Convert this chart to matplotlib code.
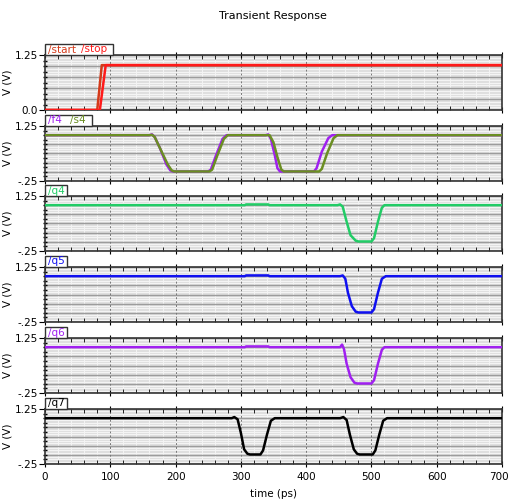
import matplotlib
matplotlib.use("Agg")
import matplotlib.pyplot as plt
from matplotlib.patches import Rectangle
from matplotlib.transforms import ScaledTranslation
import numpy as np

plt.rcParams['font.family'] = ['Liberation Sans Narrow', 'DejaVu Sans']

# ---- data ----
t_start = [0, 80, 87, 700]
v_start = [0.0, 0.0, 1.02, 1.02]
t_stop = [0, 84, 93, 700]
v_stop = [0.0, 0.0, 1.02, 1.02]

t_f4 = [0, 160, 164, 168, 176, 186, 192, 196, 250, 254, 262, 272, 278, 338, 342, 346, 352, 356, 360, 412, 416, 424, 434, 440, 700]
v_f4 = [1.0, 1.0, 1.02, 0.95, 0.65, 0.2, 0.04, 0.01, 0.01, 0.06, 0.45, 0.9, 1.0, 1.0, 1.02, 0.9, 0.45, 0.1, 0.01, 0.01, 0.1, 0.55, 0.92, 1.0, 1.0]
t_s4 = [0, 160, 164, 168, 176, 188, 194, 198, 252, 256, 264, 274, 280, 340, 344, 350, 356, 362, 366, 420, 424, 432, 442, 448, 700]
v_s4 = [1.0, 1.0, 1.01, 0.95, 0.65, 0.2, 0.04, 0.01, 0.01, 0.06, 0.45, 0.9, 1.0, 1.0, 1.0, 0.8, 0.4, 0.06, 0.01, 0.01, 0.08, 0.5, 0.92, 1.0, 1.0]

t_q4 = [0, 306, 308, 342, 344, 448, 452, 456, 462, 468, 476, 480, 500, 504, 510, 516, 520, 700]
v_q4 = [1.0, 1.0, 1.02, 1.02, 1.0, 1.0, 1.02, 0.96, 0.55, 0.18, 0.03, 0.01, 0.01, 0.1, 0.55, 0.93, 1.0, 1.0]
t_q5 = [0, 306, 308, 342, 344, 452, 456, 460, 464, 470, 476, 480, 500, 504, 510, 516, 522, 700]
v_q5 = [1.0, 1.0, 1.02, 1.02, 1.0, 1.0, 1.02, 0.93, 0.55, 0.18, 0.03, 0.01, 0.01, 0.1, 0.55, 0.93, 1.0, 1.0]
t_q6 = [0, 306, 308, 342, 344, 452, 455, 458, 462, 468, 474, 478, 500, 504, 510, 516, 520, 700]
v_q6 = [1.0, 1.0, 1.02, 1.02, 1.0, 1.0, 1.07, 0.95, 0.55, 0.18, 0.03, 0.01, 0.01, 0.1, 0.55, 0.93, 1.0, 1.0]
t_q7 = [0, 286, 290, 295, 300, 305, 310, 314, 330, 334, 340, 346, 352, 452, 457, 462, 467, 473, 478, 482, 502, 506, 512, 518, 524, 700]
v_q7 = [1.0, 1.0, 1.03, 0.97, 0.6, 0.15, 0.03, 0.01, 0.01, 0.12, 0.55, 0.93, 1.0, 1.0, 1.03, 0.95, 0.55, 0.15, 0.03, 0.01, 0.01, 0.12, 0.55, 0.93, 1.0, 1.0]

x_ticks = [0, 100, 200, 300, 400, 500, 600, 700]

panels = [
    ([("/start", t_start, v_start, "#d43a1a"), ("/stop", t_stop, v_stop, "#ff1a1a")], (0.0, 1.25), ["0.0", "1.25"]),
    ([("/f4", t_f4, v_f4, "#a020f0"), ("/s4", t_s4, v_s4, "#6b8e23")], (-0.25, 1.25), ["-.25", "1.25"]),
    ([("/q4", t_q4, v_q4, "#22cc66")], (-0.25, 1.25), ["-.25", "1.25"]),
    ([("/q5", t_q5, v_q5, "#1010f0")], (-0.25, 1.25), ["-.25", "1.25"]),
    ([("/q6", t_q6, v_q6, "#a020f0")], (-0.25, 1.25), ["-.25", "1.25"]),
    ([("/q7", t_q7, v_q7, "#000000")], (-0.25, 1.25), ["-.25", "1.25"]),
]

W, H = 510, 504
fig = plt.figure(figsize=(W / 100, H / 100), dpi=100)
fig.text(273 / W, 1 - 16 / H, "Transient Response", ha="center", va="center", fontsize=8)

left, right = 45, 502
tops = [55, 126, 196, 267, 338, 409]
ph = 55
fs = 7.5

for i, (series, ylim, ylabels) in enumerate(panels):
    top = tops[i]
    ax = fig.add_axes([left / W, 1 - (top + ph) / H, (right - left) / W, ph / H])
    ax.set_facecolor("#dedede")
    y0, y1 = ylim
    # grid
    for y in np.arange(y0, y1 + 1e-9, 0.0625):
        ax.axhline(y, color="#f4f4f4", lw=0.8, zorder=0.5)
    for y in np.arange(y0, y1 + 1e-9, 0.25):
        ax.axhline(y, color="#9c9c9c", lw=1.0, zorder=0.6)
    for x in range(0, 701, 20):
        ax.axvline(x, color="#f4f4f4", lw=0.7, zorder=0.55)
    for x in range(100, 700, 100):
        ax.axvline(x, color="#777777", lw=0.7, ls=(0, (2, 2)), zorder=0.7)
    for name, t, v, c in series:
        ax.plot(t, v, color=c, lw=1.8, solid_joinstyle="round", zorder=3)
    ax.set_xlim(0, 700)
    ax.set_ylim(y0, y1)
    ax.set_yticks([y0, y1])
    ax.set_yticklabels(ylabels, fontsize=fs)
    ax.set_yticks(np.arange(y0, y1 + 1e-9, 0.125), minor=True)
    ax.set_xticks(x_ticks)
    ax.set_xticks(range(0, 701, 20), minor=True)
    ax.tick_params(axis="y", which="major", length=4, width=0.8, pad=1)
    ax.tick_params(axis="y", which="minor", length=3, width=1.0, direction="inout")
    ax.tick_params(axis="x", which="minor", length=3, direction="in", top=True, bottom=True)
    ax.tick_params(axis="x", which="major", length=4, direction="inout", top=True)
    ax.set_ylabel("V (V)", fontsize=fs, labelpad=2)
    if i < len(panels) - 1:
        ax.tick_params(axis="x", labelbottom=False)
    else:
        ax.set_xticklabels([str(x) for x in x_ticks], fontsize=fs)
        ax.set_xlabel("time (ps)", fontsize=fs, labelpad=5)
        last = ax.get_xticklabels()[-1]
        last.set_ha("right")
        last.set_transform(last.get_transform() + ScaledTranslation(7 / 100, 0, fig.dpi_scale_trans))
    for sp in ax.spines.values():
        sp.set_color("#333333")
        sp.set_linewidth(1.2)
    # label tab
    if i == 0:
        tabw = 68
    elif i == 1:
        tabw = 47
    else:
        tabw = 22
    tab = Rectangle((0, 1), tabw / (right - left), 11 / ph, transform=ax.transAxes,
                    facecolor="white", edgecolor="#333333", lw=1.0, clip_on=False, zorder=5)
    ax.add_patch(tab)
    xpos = 3
    for name, t, v, c in series:
        ax.text(xpos / (right - left), 1 + 5.5 / ph, name, transform=ax.transAxes,
                color=c, fontsize=fs, va="center", ha="left", zorder=6)
        xpos += 33 if i == 0 else 22

fig.savefig("out.png", dpi=100)
